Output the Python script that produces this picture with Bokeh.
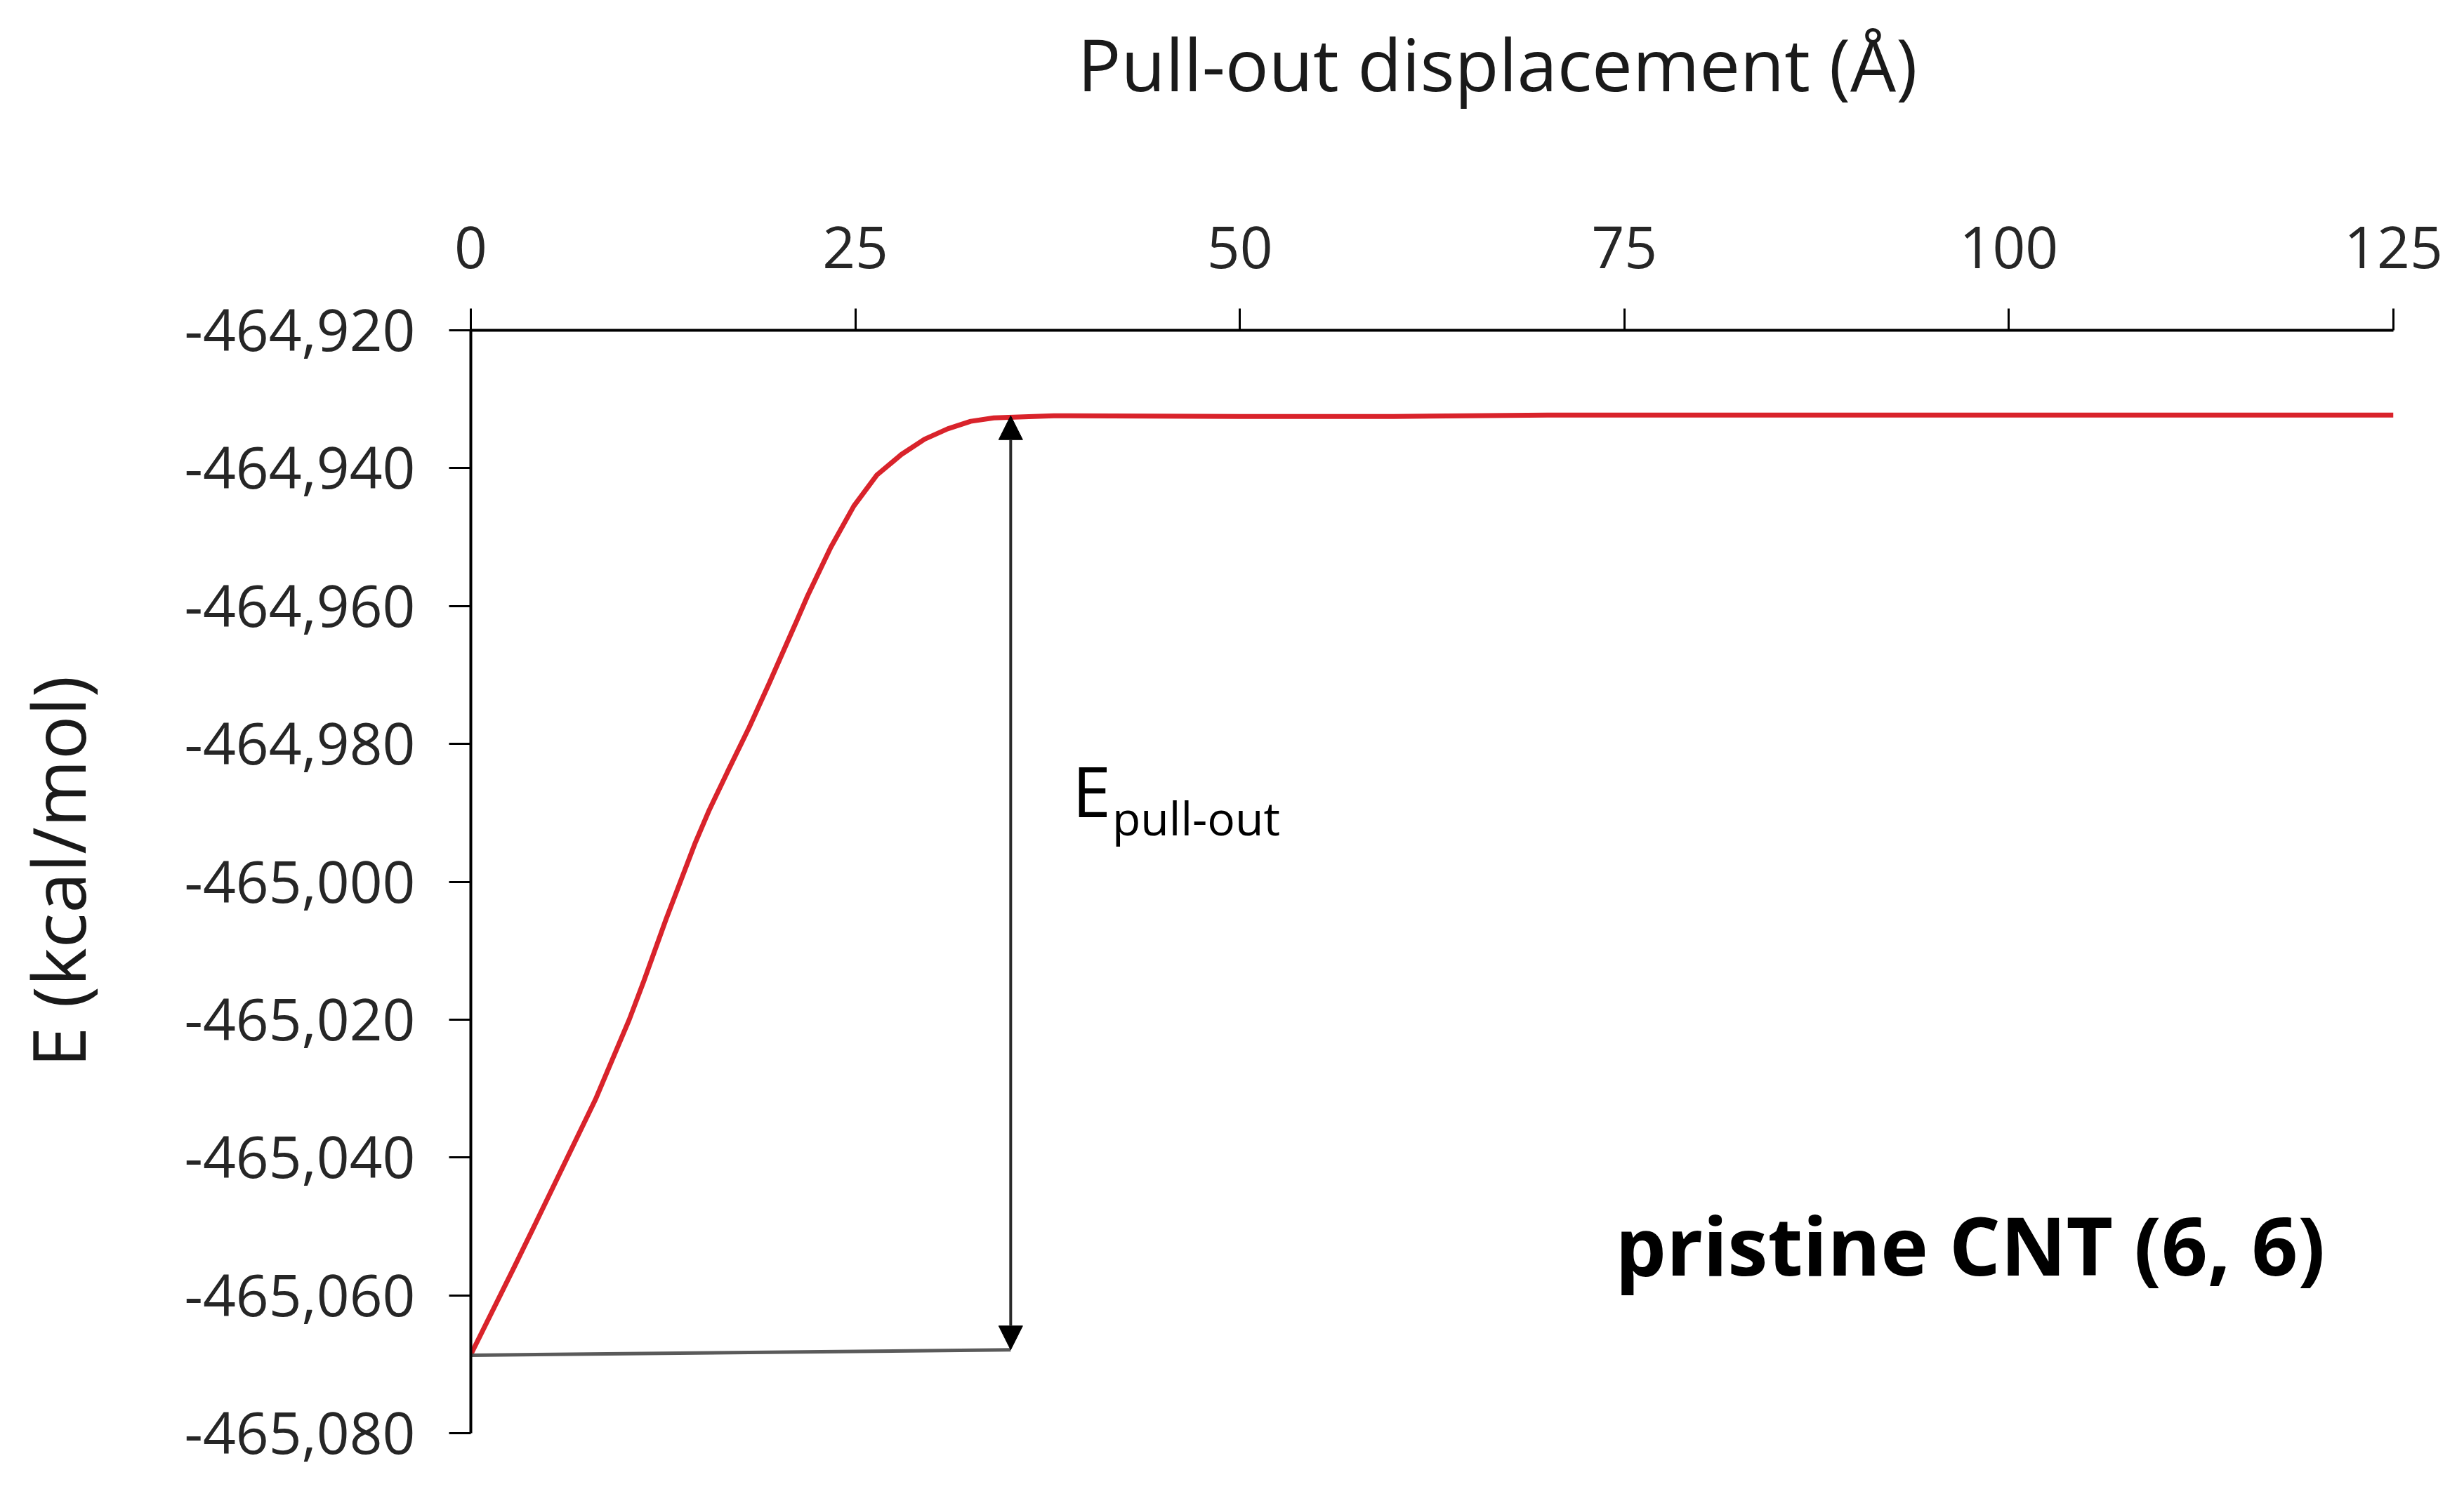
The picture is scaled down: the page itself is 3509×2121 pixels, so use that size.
from bokeh.plotting import figure
from bokeh.models import Range1d, FixedTicker, Arrow, NormalHead, Label, LinearAxis, Title
from bokeh.embed import file_html
from bokeh.resources import INLINE

# ---- data ----
displacement = [0, 2.8, 4.2, 8.1, 10.3, 11.2, 12.7, 14.6, 15.5, 16.7, 18.1, 19.4, 21.1,
                21.9, 23.4, 24.9, 26.4, 28.0, 29.5, 31.0, 32.5, 34.0, 35.3, 37.9,
                50, 60, 70, 80, 90, 100, 110, 125]
energy = [-465068.6, -465056.0, -465049.6, -465031.6, -465020.0, -465014.7, -465005.4,
          -464994.3, -464989.6, -464984.0, -464977.6, -464971.2, -464962.6,
          -464958.5, -464951.5, -464945.5, -464941.0, -464938.0, -464935.8, -464934.3,
          -464933.2, -464932.7, -464932.6, -464932.4,
          -464932.5, -464932.5, -464932.3, -464932.3, -464932.3, -464932.3, -464932.3,
          -464932.3]

x_ticks = [0, 25, 50, 75, 100, 125]
y_ticks = [-465080, -465060, -465040, -465020, -465000, -464980, -464960, -464940, -464920]
y_tick_labels = ["-465,080", "-465,060", "-465,040", "-465,020", "-465,000",
                 "-464,980", "-464,960", "-464,940", "-464,920"]

# pull-out energy annotation: baseline segment and the double arrow
base_x = [0, 35.1]
base_y = [-465068.7, -465067.9]
arrow_x = 35.1
arrow_y_low = -465067.9
arrow_y_high = -464932.4

FONT = "Open Sans"

p = figure(width=3493, height=2105, output_backend="svg", toolbar_location=None,
           x_range=Range1d(0, 125), y_range=Range1d(-465080, -464920),
           x_axis_location="above",
           min_border_left=670, min_border_right=85, min_border_top=470, min_border_bottom=64)

p.xgrid.visible = False
p.ygrid.visible = False
p.outline_line_color = None
p.background_fill_color = "white"
p.border_fill_color = "white"

for ax in (p.xaxis[0], p.yaxis[0]):
    ax.axis_line_color = "black"
    ax.axis_line_width = 4
    ax.major_tick_line_color = "black"
    ax.major_tick_line_width = 3
    ax.major_tick_in = 0
    ax.major_tick_out = 31
    ax.minor_tick_line_color = None
    ax.major_label_text_font = FONT
    ax.major_label_text_font_size = "82px"
    ax.major_label_text_color = "#262626"

p.xaxis.ticker = FixedTicker(ticks=x_ticks)
p.xaxis.major_label_standoff = 58

p.yaxis.ticker = FixedTicker(ticks=y_ticks)
p.yaxis.major_label_overrides = dict(zip(y_ticks, y_tick_labels))
p.yaxis.major_label_standoff = 48


def spacer_axis(size, tick):
    # blank axis (one white tick, no label) that only reserves room before a title
    return LinearAxis(ticker=FixedTicker(ticks=[tick]), major_tick_out=size, major_tick_in=0,
                      axis_line_color=None, major_tick_line_color="white",
                      minor_tick_line_color=None, major_label_text_color=None,
                      major_label_standoff=0, major_label_overrides={tick: ""})


p.add_layout(spacer_axis(155, x_ticks[0]), "above")
p.add_layout(spacer_axis(103, y_ticks[0]), "left")

# x-axis title (above the top axis, slightly right of centre as in the reference)
p.title.text = "Pull-out displacement (Å)"
p.title.align = "left"
p.title.offset = 864
p.title.standoff = 10
p.title.text_font = FONT
p.title.text_font_size = "103px"
p.title.text_font_style = "normal"
p.title.text_color = "#1a1a1a"

# y-axis title
p.add_layout(Title(text="E (kcal/mol)", align="left", offset=521, standoff=10,
                   text_font=FONT, text_font_size="104px", text_font_style="normal",
                   text_color="#1a1a1a"), "left")

# energy curve
p.line(displacement, energy, line_color="#D9232B", line_width=7)

# baseline segment
p.line(base_x, base_y, line_color="#5a5a5a", line_width=5)

# double arrow
p.add_layout(Arrow(start=NormalHead(size=34, fill_color="black", line_color="black"),
                   end=NormalHead(size=34, fill_color="black", line_color="black"),
                   x_start=arrow_x, y_start=arrow_y_low, x_end=arrow_x, y_end=arrow_y_high,
                   line_color="#2a2a2a", line_width=4))

p.add_layout(Label(x=39.1, y=-464986.7, text="E", text_font=FONT, text_font_size="99px",
                   text_color="black", text_baseline="alphabetic"))
p.add_layout(Label(x=41.7, y=-464990.6, text="pull-out", text_font=FONT, text_font_size="66px",
                   text_color="black", text_baseline="alphabetic"))
p.add_layout(Label(x=74.4, y=-465052.6, text="pristine CNT (6, 6)", text_font=FONT,
                   text_font_size="115px", text_font_style="bold",
                   text_color="black", text_baseline="alphabetic"))

open("out.html", "w").write(file_html(p, INLINE))
